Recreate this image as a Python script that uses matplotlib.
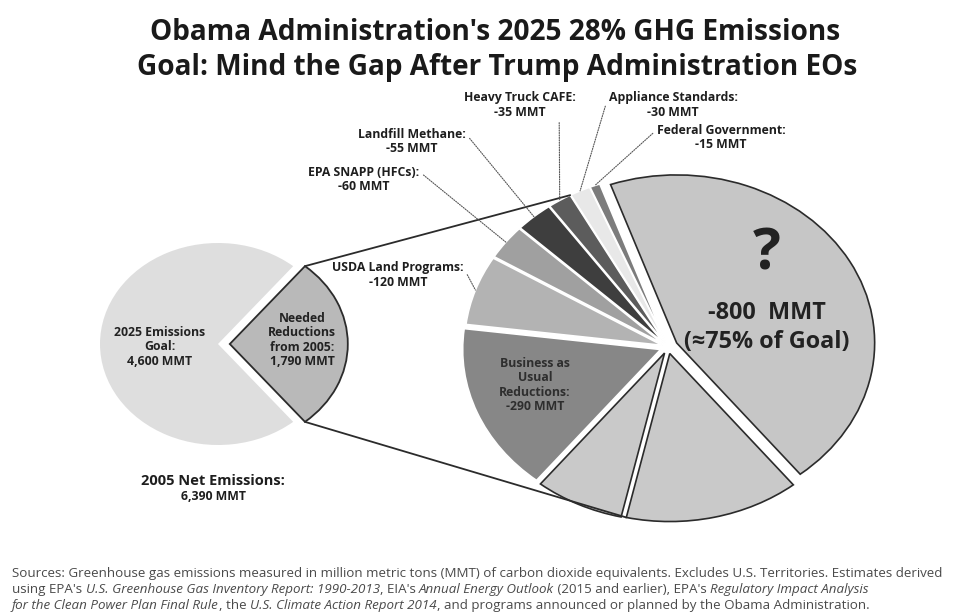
import matplotlib
matplotlib.use("Agg")
import matplotlib.pyplot as plt
import numpy as np
from matplotlib.patches import ConnectionPatch

plt.rcParams["font.family"] = ["Open Sans", "DejaVu Sans"]

W, H = 955, 614

# 2005 net emissions, split into the 2025 goal and the needed reduction
left_values = [1790, 4600]
left_colors = ["#b9b9b9", "#dedede"]

# breakdown of the needed reductions, clockwise from the top
right_names = ["Gap", "Cut A", "Cut B", "Business as Usual", "USDA Land Programs",
               "EPA SNAPP (HFCs)", "Landfill Methane", "Heavy Truck CAFE",
               "Appliance Standards", "Federal Government"]
right_values = [800, 255, 130, 290, 120, 60, 55, 35, 30, 15]
right_colors = ["#c6c6c6", "#c9c9c9", "#c9c9c9", "#878787", "#b3b3b3",
                "#a0a0a0", "#3e3e3e", "#5c5c5c", "#e8e8e8", "#7c7c7c"]
right_explode = [0.05, 0.04, 0.04, 0.04, 0.03, 0.03, 0.03, 0.03, 0.03, 0.03]

# outside labels: slice index -> (text, label centre in px, relpos of leader)
callouts = {
    4: ("USDA Land Programs:\n-120 MMT", (398, 275), (1.0, 0.75)),
    5: ("EPA SNAPP (HFCs):\n-60 MMT", (364, 180), (1.0, 0.8)),
    6: ("Landfill Methane:\n-55 MMT", (412, 142), (1.0, 0.8)),
    7: ("Heavy Truck CAFE:\n-35 MMT", (520, 105), (0.85, 0.1)),
    8: ("Appliance Standards:\n-30 MMT", (673, 105), (0.0, 0.85)),
    9: ("Federal Government:\n-15 MMT", (721, 138), (0.0, 0.8)),
}

fig = plt.figure(figsize=(W / 100, H / 100), dpi=100)
fig.patch.set_facecolor("white")


def px_axes(cx, cy, a, b):
    # axes whose (-1.25, 1.25) box maps to an ellipse of radii a, b px at (cx, cy)
    w, h = 2.5 * a, 2.5 * b
    return fig.add_axes([(cx - w / 2) / W, (H - cy - h / 2) / H, w / W, h / H])


ax_l = px_axes(218, 344, 118, 101)
wl, _ = ax_l.pie(left_values, colors=left_colors, explode=[0.1, 0],
                 startangle=-180 * left_values[0] / sum(left_values),
                 counterclock=True, wedgeprops=dict(linewidth=0))
wl[0].set_edgecolor("#2b2b2b")
wl[0].set_linewidth(1.3)

ax_r = px_axes(668, 347, 198, 168)
wr, _ = ax_r.pie(right_values, colors=right_colors, explode=right_explode,
                 startangle=109.5, counterclock=False,
                 wedgeprops=dict(linewidth=1.2, edgecolor="white"))
for i in (0, 1, 2):
    wr[i].set_edgecolor("#2b2b2b")
    wr[i].set_linewidth(1.2)

for ax in (ax_l, ax_r):
    ax.set_aspect("auto")
    ax.set_xlim(-1.25, 1.25)
    ax.set_ylim(-1.25, 1.25)
    ax.axis("off")


def edge_point(w, ang, r=1.0):
    t = np.deg2rad(ang)
    return (w.center[0] + r * np.cos(t), w.center[1] + r * np.sin(t))


# connector lines from the reduction wedge to the breakdown pie
for lang, rw, rang in ((wl[0].theta2, wr[7], wr[7].theta1),
                       (wl[0].theta1, wr[1], wr[1].theta1)):
    con = ConnectionPatch(xyA=edge_point(wl[0], lang), coordsA=ax_l.transData,
                          xyB=edge_point(rw, rang, 1.0), coordsB=ax_r.transData,
                          color="#2b2b2b", lw=1.3)
    fig.add_artist(con)

# overlay in pixel coordinates for all text
ov = fig.add_axes([0, 0, 1, 1], zorder=5)
ov.set_xlim(0, W)
ov.set_ylim(H, 0)
ov.axis("off")
ov.patch.set_alpha(0)

ov.text(495, 32, "Obama Administration's 2025 28% GHG Emissions", ha="center",
        va="center", fontsize=20.2, fontweight="bold", color="#1a1a1a")
ov.text(497, 68, "Goal: Mind the Gap After Trump Administration EOs", ha="center",
        va="center", fontsize=20.2, fontweight="bold", color="#1a1a1a")

for i, (txt, pos, rp) in callouts.items():
    w = wr[i]
    mid = (w.theta1 + w.theta2) / 2
    ov.annotate(txt, xy=edge_point(w, mid, 1.0), xycoords=ax_r.transData,
                xytext=pos, textcoords="data", ha="center", va="center",
                fontsize=8.8, fontweight="bold", color="#1e1e1e", linespacing=1.1,
                arrowprops=dict(arrowstyle="-", linestyle=(0, (1, 1.2)), color="#555555",
                                lw=0.8, relpos=rp, shrinkA=1, shrinkB=0))

ov.text(767, 255, "?", ha="center", va="center", fontsize=42, fontweight="bold",
        color="#222222")
ov.text(767, 313, "-800  MMT", ha="center", va="center", fontsize=16.8,
        fontweight="bold", color="#222222")
ov.text(767, 342, "(\u224875% of Goal)", ha="center", va="center", fontsize=16.8,
        fontweight="bold", color="#222222")

ov.text(535, 385, "Business as\nUsual\nReductions:\n-290 MMT", ha="center", va="center",
        fontsize=8.8, fontweight="bold", color="#2e2e2e", linespacing=1.15)
ov.text(160, 347, "2025 Emissions\nGoal:\n4,600 MMT", ha="center", va="center",
        fontsize=8.8, fontweight="bold", color="#222222", linespacing=1.15)
ov.text(302, 340, "Needed\nReductions\nfrom 2005:\n1,790 MMT", ha="center", va="center",
        fontsize=8.8, fontweight="bold", color="#222222", linespacing=1.15)
ov.text(213, 481, "2005 Net Emissions:", ha="center", va="center", fontsize=10.5,
        fontweight="bold", color="#1e1e1e")
ov.text(213, 497, "6,390 MMT", ha="center", va="center", fontsize=8.8,
        fontweight="bold", color="#1e1e1e")

# sources footnote, with italic report titles
source_lines = [
    [("Sources: Greenhouse gas emissions measured in million metric tons (MMT) of carbon "
      "dioxide equivalents. Excludes U.S. Territories. Estimates derived", "normal")],
    [("using EPA's ", "normal"), ("U.S. Greenhouse Gas Inventory Report: 1990-2013", "italic"),
     (", EIA's ", "normal"), ("Annual Energy Outlook", "italic"),
     (" (2015 and earlier), EPA's ", "normal"), ("Regulatory Impact Analysis", "italic")],
    [("for the Clean Power Plan Final Rule", "italic"), (", the ", "normal"),
     ("U.S. Climate Action Report 2014", "italic"),
     (", and programs announced or planned by the Obama Administration.", "normal")],
]
renderer = fig.canvas.get_renderer()
for y, pieces in zip((577, 593, 609), source_lines):
    x = 12
    for s, style in pieces:
        t = ov.text(x, y, s, ha="left", va="baseline", fontsize=9.6, style=style,
                    color="#4a4a4a")
        x += t.get_window_extent(renderer).width

fig.savefig("out.png", dpi=100)
